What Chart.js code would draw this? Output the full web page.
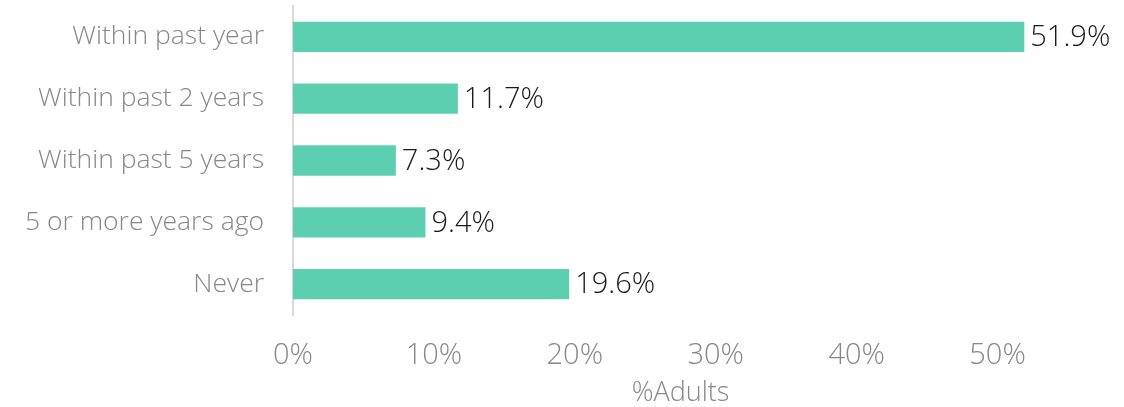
<!DOCTYPE html>
<html>
<head>
<meta charset="utf-8">
<script src="https://cdn.jsdelivr.net/npm/chart.js@4/dist/chart.umd.min.js"></script>
<style>
  html, body { margin: 0; padding: 0; background: #fff; }
  #wrap { width: 1124px; height: 407px; position: relative; }
</style>
</head>
<body>
<div id="wrap"><canvas id="c"></canvas></div>
<script>
// Last dental visit, share of adults
const categories = ['Within past year', 'Within past 2 years', 'Within past 5 years', '5 or more years ago', 'Never'];
const shareOfAdults = [51.9, 11.7, 7.3, 9.4, 19.6];
const xTickValues = [0, 10, 20, 30, 40, 50];
const xAxisTitle = '%Adults';

const FONT = "'Open Sans', 'Liberation Sans', sans-serif";

// Writes each bar's value just past its end
const valueLabels = {
  id: 'valueLabels',
  afterDatasetsDraw(chart) {
    const ctx = chart.ctx;
    const meta = chart.getDatasetMeta(0);
    ctx.save();
    ctx.font = '300 29px ' + FONT;
    ctx.fillStyle = '#1a1a1a';
    ctx.textAlign = 'left';
    ctx.textBaseline = 'middle';
    meta.data.forEach((bar, i) => {
      ctx.fillText(shareOfAdults[i].toFixed(1) + '%', bar.x + 6, bar.y + 1);
    });
    ctx.restore();
  }
};

new Chart(document.getElementById('c'), {
  type: 'bar',
  data: {
    labels: categories,
    datasets: [{
      data: shareOfAdults,
      backgroundColor: '#5dcfb1',
      borderWidth: 0,
      barPercentage: 0.49,
      categoryPercentage: 1.0
    }]
  },
  options: {
    indexAxis: 'y',
    responsive: true,
    maintainAspectRatio: false,
    animation: false,
    layout: { padding: { top: 6, left: 0, right: 56, bottom: 0 } },
    plugins: { legend: { display: false }, tooltip: { enabled: false } },
    scales: {
      x: {
        min: 0,
        max: 55,
        afterBuildTicks(scale) {
          scale.ticks = xTickValues.map(v => ({ value: v }));
        },
        afterFit(scale) {
          scale.height = 92;
          scale.paddingLeft = 0;
          scale.paddingRight = 0;
        },
        grid: { display: false, drawTicks: false },
        border: { display: false },
        ticks: {
          color: '#878787',
          font: { family: FONT, size: 29, weight: 300 },
          padding: 23,
          callback: v => v + '%'
        },
        title: {
          display: true,
          text: xAxisTitle,
          color: '#878787',
          font: { family: FONT, size: 27, weight: 300 },
          padding: { top: 0, bottom: -3 }
        }
      },
      y: {
        afterFit(scale) {
          scale.width = 293;
          scale.paddingTop = 0;
          scale.paddingBottom = 0;
        },
        grid: { display: false, drawTicks: false },
        border: { display: true, color: '#d9d9d9', width: 2 },
        ticks: {
          color: '#878787',
          font: { family: FONT, size: 26.5, weight: 300 },
          padding: 29
        }
      }
    }
  },
  plugins: [valueLabels]
});
</script>
</body>
</html>
